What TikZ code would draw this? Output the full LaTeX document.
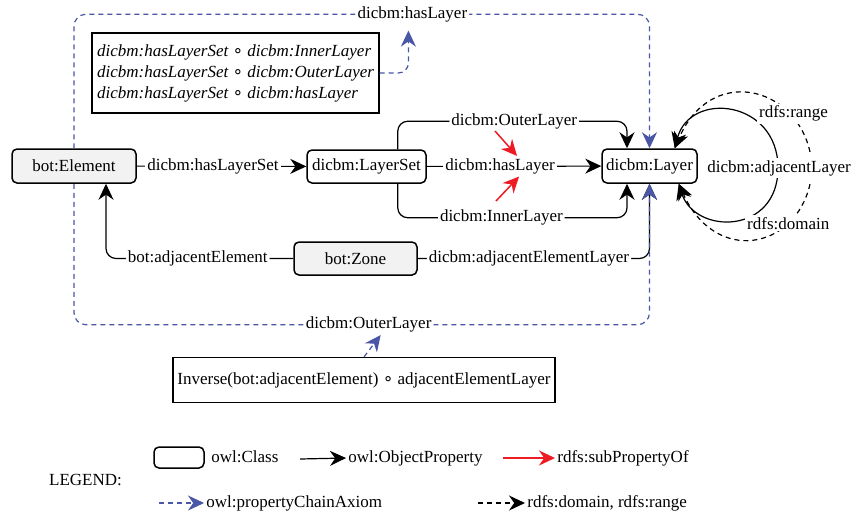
\documentclass[tikz,border=0pt]{standalone}
\usepackage{fontspec}
\setmainfont{Liberation Serif}
\newfontfamily\ringfont{DejaVu Sans}
\newcommand{\chainring}{{\ringfont\upshape ∘}}
\usetikzlibrary{arrows.meta}
\definecolor{chainblue}{HTML}{4A56A6}
\definecolor{subred}{HTML}{ED1C24}
\definecolor{clsgray}{HTML}{F2F2F2}

\begin{document}
\begin{tikzpicture}[x=0.5pt,y=-0.5pt,>={Stealth[length=8pt,width=7.5pt]}]
\tikzstyle{every node}+=[inner sep=1pt, font=\fontsize{8.5}{10.5}\selectfont]
\tikzstyle{cls}=[draw, rounded corners=2.5pt, line width=0.75pt, minimum height=17pt]
\tikzstyle{lbl}=[fill=white, text=black]
\tikzstyle{prop}=[->, line width=0.6pt]
\tikzstyle{sub}=[->, line width=0.75pt, subred]
\tikzstyle{chain}=[->, line width=0.6pt, dash pattern=on 2.5pt off 2pt, chainblue]
\tikzstyle{dom}=[->, line width=0.6pt, dash pattern=on 2.5pt off 2pt]
\fill[white] (0,0) rectangle (855,514);
\useasboundingbox (0,0) rectangle (855,514);

% classes
\node[cls, fill=clsgray, minimum width=62pt] (elem) at (74,166) {bot:Element};
\node[cls, minimum width=59.5pt, minimum height=16.5pt] (lset) at (366.5,166.5) {dicbm:LayerSet};
\node[cls, minimum width=47.5pt] (layer) at (649.5,166) {dicbm:Layer};
\node[cls, fill=clsgray, minimum width=61.5pt, minimum height=16.5pt] (zone) at (355.5,258.5) {bot:Zone};

% object properties
\draw[prop] (elem) -- (lset) node[lbl, pos=.45] {dicbm:hasLayerSet};
\draw[prop] (lset) -- (layer) node[lbl, pos=.42] (hl) {dicbm:hasLayer};
\draw[prop, rounded corners=5pt] ([xshift=-14.5pt]lset.north east) -- ++(0,-28) -| ([xshift=-11.25pt]layer.north) node[lbl, pos=.254] {dicbm:OuterLayer};
\draw[prop, rounded corners=5pt] ([xshift=-14.5pt]lset.south east) -- ++(0,34) -| ([xshift=-11.25pt]layer.south) node[lbl, pos=.226] {dicbm:InnerLayer};
\draw[prop, rounded corners=5pt] (zone.west) -| ([xshift=16pt]elem.south) node[lbl, pos=.255] {bot:adjacentElement};
\draw[prop, rounded corners=5pt] (zone.east) -| (layer.south) node[lbl, pos=.24] {dicbm:adjacentElementLayer};

% subproperties
\coordinate (o1) at (495,131);
\coordinate (i1) at (496,201);
\draw[sub] (o1) -- ([xshift=8.5pt]hl.north);
\draw[sub] (i1) -- ([xshift=9.5pt]hl.south);

% property chains
\draw[chain, rounded corners=6pt] (elem.north) -- ++(0,-134) -| (layer.north) node[lbl, pos=.294] (ctop) {dicbm:hasLayer};
\draw[chain, rounded corners=6pt] (elem.south) -- ++(0,141) -| (layer.south) node[lbl, pos=.256] (cbot) {dicbm:OuterLayer};
\node[draw, line width=0.6pt, align=left, minimum width=143.5pt, minimum height=40pt, font=\fontsize{8.5}{10.5}\selectfont\itshape] (ibox) at (235.5,73)
  {dicbm:hasLayerSet \chainring{} dicbm:InnerLayer\\dicbm:hasLayerSet \chainring{} dicbm:OuterLayer\\dicbm:hasLayerSet \chainring{} dicbm:hasLayer};
\draw[chain, rounded corners=5pt, shorten >=3pt] (ibox.east) -| ([xshift=-2pt]ctop.south);
\node[draw, line width=0.6pt, minimum width=191pt, minimum height=22.5pt] (bbox) at (364,380) {Inverse(bot:adjacentElement) \chainring{} adjacentElementLayer};
\draw[chain] (bbox.north) -- ([xshift=6pt]cbot.south);

% adjacent layer loop
\coordinate (ltop) at ([xshift=-11.5pt]layer.north east);
\coordinate (lbot) at ([xshift=-9.5pt]layer.south east);
\draw[prop, <->] (ltop) .. controls (690,90) and (778,100) .. (778,168) .. controls (778,235) and (695,235) .. (lbot);
\node[lbl] (al) at (779,168) {dicbm:adjacentLayer};
\draw[dom] ([xshift=15.5pt,yshift=3pt]al.north) .. controls (795,85) and (710,65) .. (ltop) node[lbl, pos=.2, yshift=2pt] {rdfs:range};
\draw[dom] ([xshift=15.5pt,yshift=-3pt]al.south) .. controls (795,250) and (715,265) .. (lbot) node[lbl, pos=.25] {rdfs:domain};

% legend
\node (leg) at (85.5,480) {LEGEND:};
\node[cls, minimum width=25pt, minimum height=10.5pt] (lcls) at (179,457.5) {};
\node[anchor=west] (tcls) at (209,457) {owl:Class};
\coordinate (lp) at (300,459);
\node[anchor=west] (tprop) at (346,458) {owl:ObjectProperty};
\draw[prop] (lp) -- (tprop.west);
\coordinate (ls) at (503,458);
\node[anchor=west] (tsub) at (555,458) {rdfs:subPropertyOf};
\draw[sub] (ls) -- (tsub.west);
\coordinate (lc) at (159,503);
\node[anchor=west] (tch) at (204,503) {owl:propertyChainAxiom};
\draw[chain] (lc) -- (tch.west);
\coordinate (ld) at (478,503);
\node[anchor=west] (tdom) at (525,503) {rdfs:domain, rdfs:range};
\draw[dom] (ld) -- (tdom.west);
\end{tikzpicture}
\end{document}
